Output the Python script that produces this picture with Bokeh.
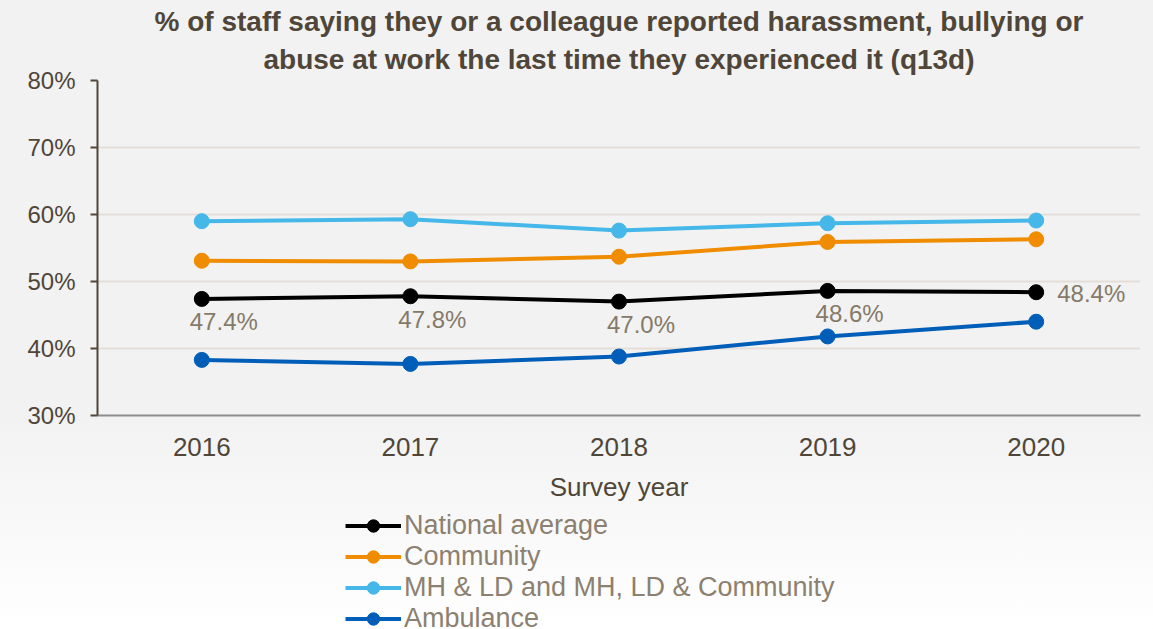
from bokeh.plotting import figure
from bokeh.models import ColumnDataSource, Legend, LegendItem, Title, PrintfTickFormatter, FixedTicker, LabelSet, Range1d
from bokeh.layouts import column
from bokeh.core.properties import value
from bokeh.embed import file_html
from bokeh.resources import INLINE

years = ["2016", "2017", "2018", "2019", "2020"]
national = [47.4, 47.8, 47.0, 48.6, 48.4]
community = [53.1, 53.0, 53.7, 55.9, 56.3]
mhld = [59.0, 59.3, 57.6, 58.7, 59.1]
ambulance = [38.3, 37.7, 38.8, 41.8, 44.0]
series_names = ["National average", "Community", "MH & LD and MH, LD & Community", "Ambulance"]
colors = ["#000000", "#F08C00", "#45B7E8", "#005EB8"]

FONT = "Liberation Sans"

p = figure(width=1153, height=505, x_range=years, y_range=(30, 80),
           output_backend="svg", toolbar_location=None,
           min_border_left=97, min_border_right=13, min_border_top=80, min_border_bottom=90)
p.border_fill_alpha = 0
p.background_fill_color = "#f2f2f2"
p.outline_line_color = None

t2 = Title(text="abuse at work the last time they experienced it (q13d)", align="center",
           text_font=FONT, text_font_size="28px", text_font_style="bold",
           text_color="#4F4639", standoff=11, text_line_height=0.85)
t1 = Title(text="% of staff saying they or a colleague reported harassment, bullying or", align="center",
           text_font=FONT, text_font_size="28px", text_font_style="bold",
           text_color="#4F4639", standoff=0, text_line_height=0.85)
p.add_layout(t2, "above")
p.add_layout(t1, "above")

for vals, c in zip([national, community, mhld, ambulance], colors):
    src = ColumnDataSource(dict(x=years, y=vals))
    p.line("x", "y", source=src, line_color=c, line_width=4)
    p.scatter("x", "y", source=src, size=15, fill_color=c, line_color=c)

lab_src = ColumnDataSource(dict(x=years[:4], y=national[:4], t=[f"{v:.1f}%" for v in national[:4]]))
p.add_layout(LabelSet(x="x", y="y", text="t", source=lab_src, x_offset=22, y_offset=-23,
                      text_align="center", text_baseline="middle", text_font=value(FONT),
                      text_font_size="24px", text_color="#857A69"))
lab_src2 = ColumnDataSource(dict(x=years[4:], y=national[4:], t=[f"{v:.1f}%" for v in national[4:]]))
p.add_layout(LabelSet(x="x", y="y", text="t", source=lab_src2, x_offset=21, y_offset=-1,
                      text_align="left", text_baseline="middle", text_font=value(FONT),
                      text_font_size="24px", text_color="#857A69"))

p.yaxis.ticker = FixedTicker(ticks=[30, 40, 50, 60, 70, 80])
p.yaxis.formatter = PrintfTickFormatter(format="%d%%")
p.yaxis.major_label_text_font = FONT
p.yaxis.major_label_text_font_size = "24px"
p.yaxis.major_label_text_color = "#4F4639"
p.yaxis.axis_line_color = "#4F4639"
p.yaxis.axis_line_width = 2
p.yaxis.major_tick_line_color = "#4F4639"
p.yaxis.major_tick_line_width = 2
p.yaxis.major_tick_out = 7
p.yaxis.major_tick_in = 0
p.yaxis.minor_tick_line_color = None
p.yaxis.major_label_standoff = 15

p.xaxis.major_label_text_font = FONT
p.xaxis.major_label_text_font_size = "26px"
p.xaxis.major_label_text_color = "#4F4639"
p.xaxis.axis_line_color = "#8C8C8C"
p.xaxis.axis_line_width = 2
p.xaxis.major_tick_line_color = None
p.xaxis.minor_tick_line_color = None
p.xaxis.major_label_standoff = 16
p.xaxis.axis_label = "Survey year"
p.xaxis.axis_label_text_font = FONT
p.xaxis.axis_label_text_font_size = "26px"
p.xaxis.axis_label_text_font_style = "normal"
p.xaxis.axis_label_text_color = "#4F4639"
p.xaxis.axis_label_standoff = 13

p.xgrid.grid_line_color = None
p.ygrid.grid_line_color = "#E3DED7"
p.ygrid.grid_line_width = 2

# legend panel below the chart
q = figure(width=1153, height=124, x_range=Range1d(0, 1), y_range=Range1d(0, 1),
           output_backend="svg", toolbar_location=None,
           min_border_left=0, min_border_right=0, min_border_top=0, min_border_bottom=0,
           x_axis_type=None, y_axis_type=None)
q.border_fill_alpha = 0
q.background_fill_alpha = 0
q.outline_line_color = None
q.grid.visible = False
items = []
for n, c in zip(series_names, colors):
    src = ColumnDataSource(dict(x=[-10, -9], y=[-10, -10]))
    l = q.line("x", "y", source=src, line_color=c, line_width=4)
    s = q.scatter("x", "y", source=src, size=15, fill_color=c, line_color=c)
    items.append(LegendItem(label=n, renderers=[l, s]))

legend = Legend(items=items, location=(248, -5), orientation="vertical", spacing=0, padding=0, margin=0,
                label_text_font=FONT, label_text_font_size="27px",
                label_text_color="#8C8070", glyph_width=56, glyph_height=31,
                label_standoff=3, background_fill_alpha=0, border_line_color=None,
                label_height=31)
q.add_layout(legend, "center")

layout = column(p, q, spacing=0)
layout.styles = {"background": "linear-gradient(to bottom, #f2f2f2 0%, #f2f2f2 66%, #ffffff 100%)"}

open("out.html", "w").write(file_html(layout, INLINE))
